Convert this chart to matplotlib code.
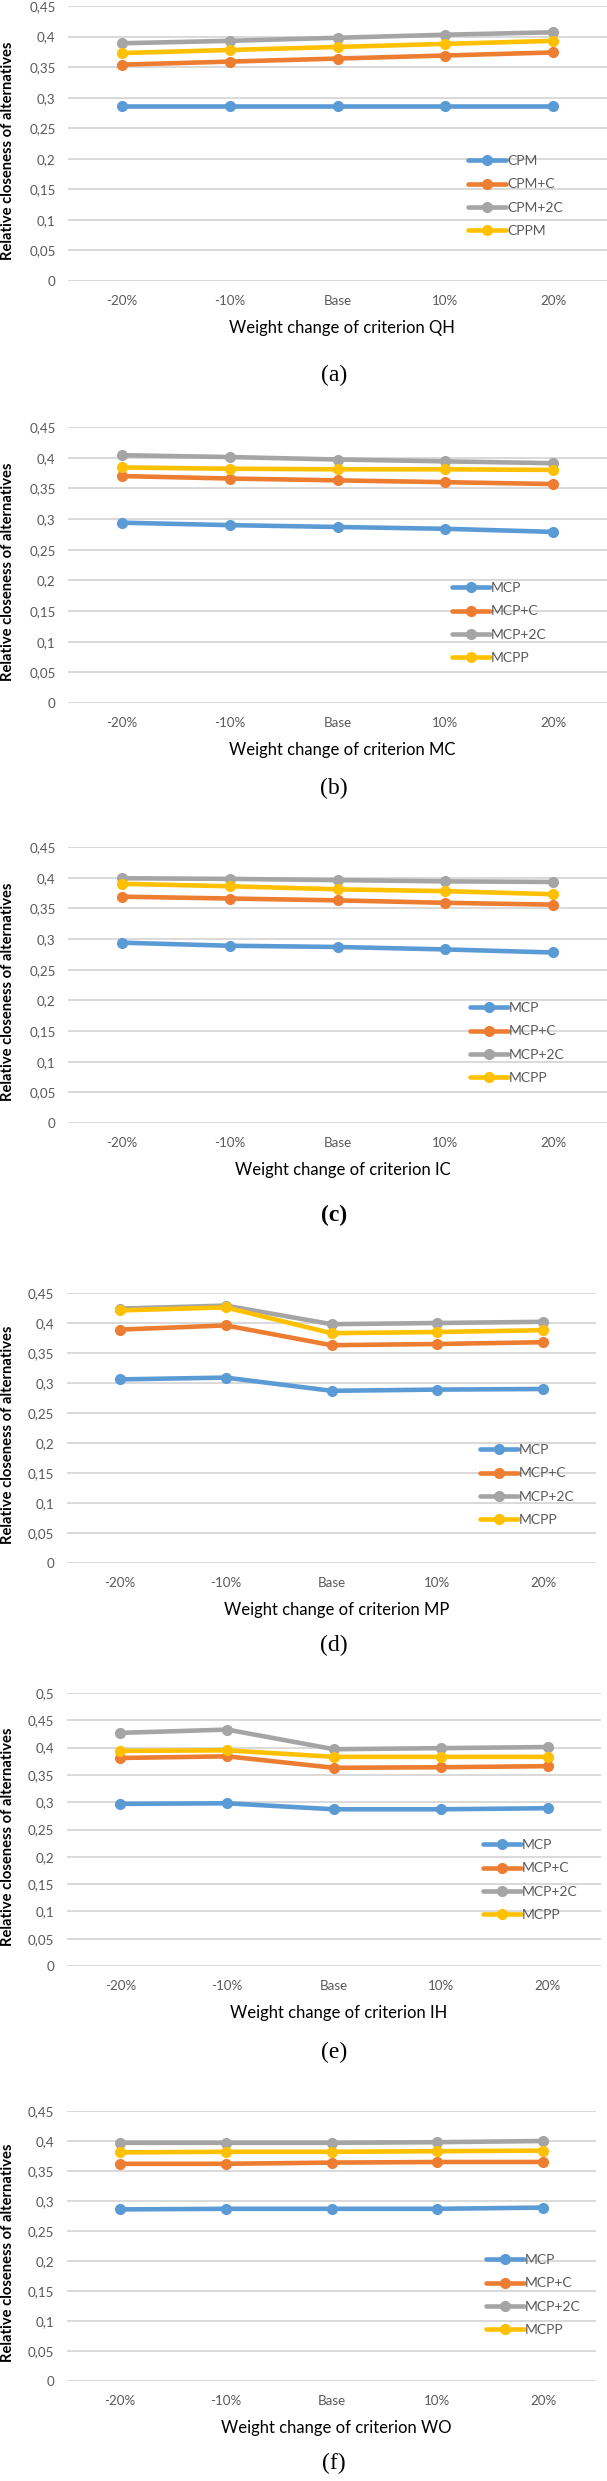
import matplotlib
matplotlib.use("Agg")
import matplotlib.pyplot as plt

# ---------------- data ----------------
categories = ["-20%", "-10%", "Base", "10%", "20%"]

# (a) criterion QH
qh_cpm   = [0.287, 0.287, 0.287, 0.287, 0.287]
qh_cpm_c = [0.354, 0.359, 0.364, 0.369, 0.374]
qh_cpm2c = [0.389, 0.393, 0.398, 0.403, 0.407]
qh_cppm  = [0.373, 0.378, 0.383, 0.388, 0.393]

# (b) criterion MC
mc_mcp   = [0.294, 0.290, 0.287, 0.284, 0.279]
mc_mcp_c = [0.370, 0.366, 0.363, 0.360, 0.357]
mc_mcp2c = [0.404, 0.401, 0.397, 0.394, 0.391]
mc_mcpp  = [0.384, 0.382, 0.381, 0.381, 0.380]

# (c) criterion IC
ic_mcp   = [0.294, 0.289, 0.287, 0.283, 0.278]
ic_mcp_c = [0.369, 0.366, 0.363, 0.359, 0.356]
ic_mcp2c = [0.399, 0.398, 0.396, 0.394, 0.393]
ic_mcpp  = [0.390, 0.386, 0.381, 0.378, 0.373]

# (d) criterion MP
mp_mcp   = [0.306, 0.309, 0.287, 0.289, 0.290]
mp_mcp_c = [0.389, 0.396, 0.363, 0.365, 0.368]
mp_mcp2c = [0.424, 0.429, 0.398, 0.400, 0.402]
mp_mcpp  = [0.421, 0.426, 0.383, 0.385, 0.388]

# (e) criterion IH
ih_mcp   = [0.297, 0.298, 0.287, 0.287, 0.289]
ih_mcp_c = [0.381, 0.384, 0.363, 0.364, 0.366]
ih_mcp2c = [0.427, 0.433, 0.397, 0.399, 0.401]
ih_mcpp  = [0.394, 0.395, 0.383, 0.383, 0.383]

# (f) criterion WO
wo_mcp   = [0.286, 0.287, 0.287, 0.287, 0.289]
wo_mcp_c = [0.362, 0.362, 0.364, 0.365, 0.365]
wo_mcp2c = [0.397, 0.397, 0.397, 0.398, 0.400]
wo_mcpp  = [0.381, 0.382, 0.382, 0.383, 0.384]

names_a = ["CPM", "CPM+C", "CPM+2C", "CPPM"]
names_m = ["MCP", "MCP+C", "MCP+2C", "MCPP"]

ticks_45 = ["0", "0,05", "0,1", "0,15", "0,2", "0,25", "0,3", "0,35", "0,4", "0,45"]
ticks_50 = ticks_45 + ["0,5"]

colors = ["#5B9BD5", "#ED7D31", "#A5A5A5", "#FFC000"]

# ---------------- layout (pixels) ----------------
W, H = 607, 2481
fig = plt.figure(figsize=(W / 100, H / 100), dpi=100)
plt.rcParams["font.family"] = ["Lato", "DejaVu Sans"]

panels = [
    # series, names, criterion, caption, ymax, ticklabels, left, right, top, bottom, legend x, legend top
    ([qh_cpm, qh_cpm_c, qh_cpm2c, qh_cppm], names_a, "QH", "(a)", 0.45, ticks_45, 68, 607, 6, 281, 468, 155),
    ([mc_mcp, mc_mcp_c, mc_mcp2c, mc_mcpp], names_m, "MC", "(b)", 0.45, ticks_45, 68, 607, 427, 703, 452, 582),
    ([ic_mcp, ic_mcp_c, ic_mcp2c, ic_mcpp], names_m, "IC", "(c)", 0.45, ticks_45, 68, 607, 847, 1123, 470, 1002),
    ([mp_mcp, mp_mcp_c, mp_mcp2c, mp_mcpp], names_m, "MP", "(d)", 0.45, ticks_45, 67, 596, 1293, 1563, 480, 1444),
    ([ih_mcp, ih_mcp_c, ih_mcp2c, ih_mcpp], names_m, "IH", "(e)", 0.50, ticks_50, 67, 601, 1693, 1966, 483, 1839),
    ([wo_mcp, wo_mcp_c, wo_mcp2c, wo_mcpp], names_m, "WO", "(f)", 0.45, ticks_45, 67, 596, 2111, 2381, 486, 2254),
]

caption_y = [375, 788, 1215, 1645, 2052, 2463]

for k, (series, names, crit, cap, ymax, tlabels, l, r, t, b, lx, ly) in enumerate(panels):
    ax = fig.add_axes([l / W, 1 - b / H, (r - l) / W, (b - t) / H])
    xs = range(len(categories))
    for vals, nm, c in zip(series, names, colors):
        ax.plot(xs, vals, color=c, lw=3.3, marker="o", ms=7, label=nm,
                solid_capstyle="round", clip_on=False)
    ax.set_xlim(-0.5, len(categories) - 0.5)
    ax.set_ylim(0, ymax)
    yt = [i * 0.05 for i in range(len(tlabels))]
    ax.set_yticks(yt)
    ax.set_yticklabels(tlabels)
    ax.set_xticks(list(xs))
    ax.set_xticklabels(categories)
    ax.tick_params(length=0, labelsize=9.6, colors="#595959", pad=9)
    ax.tick_params(axis="x", pad=10)
    for s in ax.spines.values():
        s.set_visible(False)
    ax.grid(axis="y", color="#D9D9D9", lw=1.4)
    ax.set_axisbelow(True)

    leg = ax.legend(loc="upper left", bbox_to_anchor=(lx / W, 1 - ly / H),
                    bbox_transform=fig.transFigure, frameon=False, fontsize=10,
                    handlelength=2.7, handletextpad=0.1, labelspacing=0.82,
                    borderpad=0, borderaxespad=0)
    for txt in leg.get_texts():
        txt.set_color("#595959")

    # axis titles
    fig.text((l + r) / 2 / W + 0.008, 1 - (b + 47) / H, "Weight change of criterion " + crit,
             ha="center", va="center", fontsize=12, color="black")
    fig.text(8 / W, 1 - ((t + b) / 2 + 7) / H, "Relative closeness of alternatives",
             rotation=90, ha="center", va="center", fontsize=10.6, color="black",
             fontweight="bold")
    fig.text(334 / W, 1 - caption_y[k] / H, cap, ha="center", va="center", fontsize=17,
             family="Liberation Serif", fontweight="bold" if cap == "(c)" else "normal")

fig.savefig("out.png", dpi=100, facecolor="white")
